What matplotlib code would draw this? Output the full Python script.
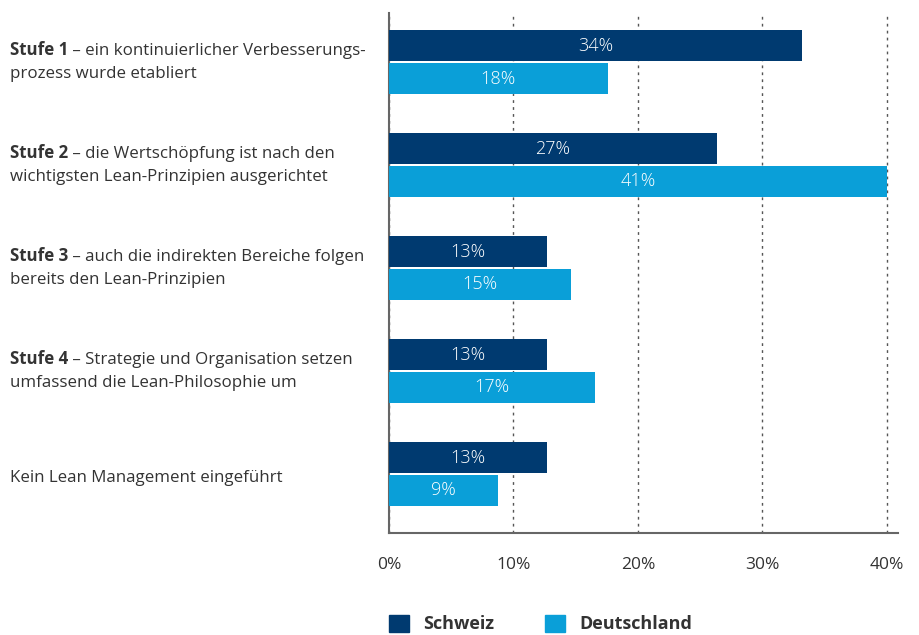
import numpy as np
import matplotlib
matplotlib.use("Agg")
import matplotlib.pyplot as plt
from matplotlib.patches import Patch
from matplotlib.transforms import blended_transform_factory

plt.rcParams['font.family'] = ['Open Sans', 'DejaVu Sans']

stufen = ["Stufe 1", "Stufe 2", "Stufe 3", "Stufe 4", ""]
line1 = [" \u2013 ein kontinuierlicher Verbesserungs-",
         " \u2013 die Wertsch\u00f6pfung ist nach den",
         " \u2013 auch die indirekten Bereiche folgen",
         " \u2013 Strategie und Organisation setzen",
         "Kein Lean Management eingef\u00fchrt"]
line2 = ["prozess wurde etabliert",
         "wichtigsten Lean-Prinzipien ausgerichtet",
         "bereits den Lean-Prinzipien",
         "umfassend die Lean-Philosophie um",
         ""]
schweiz = [34, 27, 13, 13, 13]
deutschland = [18, 41, 15, 17, 9]
tick_labels = ["0%", "10%", "20%", "30%", "40%"]

c_ch = "#003a70"
c_de = "#0a9fd8"
txt = "#333333"

fig = plt.figure(figsize=(9.2, 6.35), dpi=100)
W, H = 920, 635
ax = fig.add_axes([389 / W, 1 - 533 / H, (898 - 389) / W, (533 - 13) / H])

y = np.arange(len(stufen))
h = 0.30
off = 0.16
b1 = ax.barh(y - off, schweiz, height=h, color=c_ch, zorder=3)
b2 = ax.barh(y + off, deutschland, height=h, color=c_de, zorder=3)

for bars, vals in ((b1, schweiz), (b2, deutschland)):
    for r, v in zip(bars, vals):
        ax.text(r.get_width() / 2, r.get_y() + r.get_height() / 2, f"{v}%",
                ha="center", va="center", color="white", fontsize=13,
                fontweight="light", zorder=4)

# the source draws its 41% bar right on the 40% gridline
top = max(max(schweiz), max(deutschland))
ticks = np.linspace(0, top, len(tick_labels))
ax.set_xlim(0, top * 509 / 498)
ax.set_xticks(ticks)
ax.set_xticklabels(tick_labels, fontsize=12.5, color=txt)
ax.tick_params(axis="x", length=0, pad=17)
ax.set_yticks([])
ax.set_ylim(len(stufen) - 1 + 0.573, -0.476)
ax.xaxis.grid(True, linestyle=(0, (2, 3)), color="#555555", linewidth=1, zorder=0)
for s in ("top", "right"):
    ax.spines[s].set_visible(False)
for s in ("left", "bottom"):
    ax.spines[s].set_color("#666666")
    ax.spines[s].set_linewidth(1.5)

tr = blended_transform_factory(fig.transFigure, ax.transData)
fs = 12.2
for i in range(len(stufen)):
    if line2[i]:
        d1, d2 = -0.12, 0.12
    else:
        d1 = 0.04
    if stufen[i]:
        t = ax.text(10 / W, i + d1, stufen[i], transform=tr, fontsize=fs,
                    fontweight="bold", color=txt, ha="left", va="center")
        ax.annotate(line1[i], xy=(1, 0), xycoords=t, fontsize=fs, color=txt,
                    ha="left", va="bottom", annotation_clip=False)
    else:
        ax.text(10 / W, i + d1, line1[i], transform=tr, fontsize=fs,
                color=txt, ha="left", va="center")
    if line2[i]:
        ax.text(10 / W, i + d2, line2[i], transform=tr, fontsize=fs,
                color=txt, ha="left", va="center")

handles = [Patch(color=c_ch, label="Schweiz"), Patch(color=c_de, label="Deutschland")]
fig.legend(handles=handles, loc="center left", bbox_to_anchor=(389 / W, 1 - 624 / H),
           ncol=2, frameon=False, prop={"weight": "bold", "size": 13},
           handlelength=1.1, handleheight=1.1, handletextpad=0.8,
           columnspacing=2.8, borderpad=0, borderaxespad=0, labelcolor=txt)

fig.savefig("out.png", dpi=100)
